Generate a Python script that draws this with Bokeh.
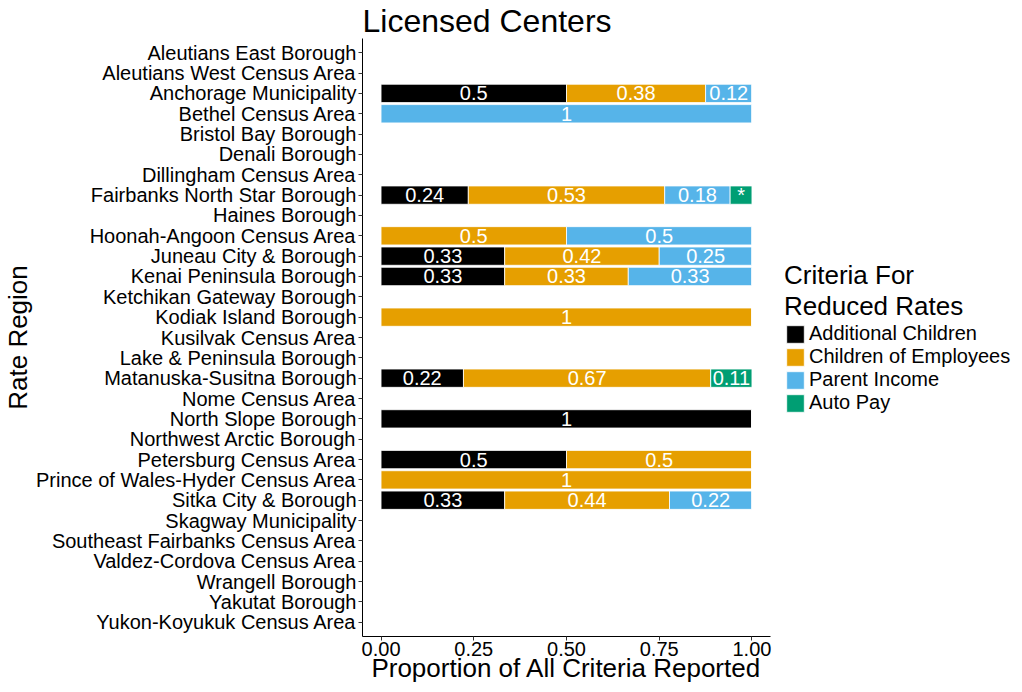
from bokeh.plotting import figure
from bokeh.models import (ColumnDataSource, FactorRange, Range1d, FixedTicker,
                          NumeralTickFormatter, Legend, LegendItem)
from bokeh.core.properties import value
from bokeh.embed import file_html
from bokeh.resources import INLINE

FONT = "Liberation Sans"

regions = [
    "Aleutians East Borough", "Aleutians West Census Area", "Anchorage Municipality",
    "Bethel Census Area", "Bristol Bay Borough", "Denali Borough", "Dillingham Census Area",
    "Fairbanks North Star Borough", "Haines Borough", "Hoonah-Angoon Census Area",
    "Juneau City & Borough", "Kenai Peninsula Borough", "Ketchikan Gateway Borough",
    "Kodiak Island Borough", "Kusilvak Census Area", "Lake & Peninsula Borough",
    "Matanuska-Susitna Borough", "Nome Census Area", "North Slope Borough",
    "Northwest Arctic Borough", "Petersburg Census Area", "Prince of Wales-Hyder Census Area",
    "Sitka City & Borough", "Skagway Municipality", "Southeast Fairbanks Census Area",
    "Valdez-Cordova Census Area", "Wrangell Borough", "Yakutat Borough",
    "Yukon-Koyukuk Census Area",
]

additional_children = [0, 0, 0.5, 0, 0, 0, 0, 0.2353, 0, 0, 0.3333, 0.3333, 0, 0, 0, 0,
                       0.2222, 0, 1, 0, 0.5, 0, 0.3333, 0, 0, 0, 0, 0, 0]
children_of_employees = [0, 0, 0.375, 0, 0, 0, 0, 0.5294, 0, 0.5, 0.4167, 0.3333, 0, 1, 0, 0,
                         0.6667, 0, 0, 0, 0.5, 1, 0.4444, 0, 0, 0, 0, 0, 0]
parent_income = [0, 0, 0.125, 1, 0, 0, 0, 0.1765, 0, 0.5, 0.25, 0.3333, 0, 0, 0, 0,
                 0, 0, 0, 0, 0, 0, 0.2222, 0, 0, 0, 0, 0, 0]
auto_pay = [0, 0, 0, 0, 0, 0, 0, 0.0588, 0, 0, 0, 0, 0, 0, 0, 0,
            0.1111, 0, 0, 0, 0, 0, 0, 0, 0, 0, 0, 0, 0]

series_names = ["Additional Children", "Children of Employees", "Parent Income", "Auto Pay"]
series_keys = ["ac", "ce", "pi", "ap"]
colors = ["#000000", "#E69F00", "#56B4E9", "#009E73"]
x_ticks = [0, 0.25, 0.5, 0.75, 1.0]

series_values = [additional_children, children_of_employees, parent_income, auto_pay]
source = ColumnDataSource(dict(region=regions, ac=additional_children,
                               ce=children_of_employees, pi=parent_income, ap=auto_pay))

# label positions (segment centres)
lx, ly, lt = [], [], []
for i, r in enumerate(regions):
    cum = 0.0
    for vals in series_values:
        v = vals[i]
        if v > 0:
            lx.append(cum + v / 2)
            ly.append(r)
            lt.append("*" if v < 0.1 else f"{v:.2f}".rstrip("0").rstrip("."))
            cum += v
label_src = ColumnDataSource(dict(x=lx, y=ly, t=lt))

p = figure(frame_width=408, frame_height=598, output_backend="svg", toolbar_location=None,
           y_range=FactorRange(factors=list(reversed(regions)), range_padding=0.2,
                               range_padding_units="absolute"),
           x_range=Range1d(-0.05, 1.05), title="Licensed Centers")
p.min_border_left = 0
p.min_border_right = 0
p.min_border_top = 0
p.min_border_bottom = 0

renderers = p.hbar_stack(series_keys, y="region", height=0.9, color=colors, source=source,
                         line_color="white", line_width=0.8)

p.text(x="x", y="y", text="t", source=label_src, text_color="white",
       text_font=value(FONT), text_font_size="20px", text_align="center",
       text_baseline="middle")

p.title.text_font = FONT
p.title.text_font_size = "32px"
p.title.text_font_style = "normal"
p.title.text_color = "black"
p.title.align = "left"
p.title.standoff = 0

p.xgrid.visible = False
p.ygrid.visible = False
p.outline_line_color = None

for ax in (p.xaxis[0], p.yaxis[0]):
    ax.axis_line_color = "black"
    ax.major_tick_line_color = "#333333"
    ax.major_tick_out = 4
    ax.major_tick_in = 0
    ax.minor_tick_line_color = None
    ax.major_label_text_font = FONT
    ax.major_label_text_font_size = "20px"
    ax.major_label_text_color = "black"
    ax.axis_label_text_font = FONT
    ax.axis_label_text_font_size = "26px"
    ax.axis_label_text_font_style = "normal"
    ax.axis_label_text_color = "black"
    ax.major_label_standoff = 2
    ax.axis_label_standoff = 0

p.xaxis[0].ticker = FixedTicker(ticks=x_ticks)
p.xaxis[0].formatter = NumeralTickFormatter(format="0.00")
p.xaxis[0].axis_label = "Proportion of All Criteria Reported"
p.xaxis[0].major_label_standoff = 1
p.xaxis[0].axis_label_standoff = -6
p.yaxis[0].axis_label = "Rate Region"

legend = Legend(items=[LegendItem(label=n, renderers=[r]) for n, r in zip(series_names, renderers)],
                location="center_left", title="Criteria For\nReduced Rates")
legend.title_text_font = FONT
legend.title_text_font_size = "26px"
legend.title_text_font_style = "normal"
legend.title_text_color = "black"
legend.title_standoff = 0
legend.label_text_font = FONT
legend.label_text_font_size = "20px"
legend.label_text_color = "black"
legend.glyph_width = 22
legend.glyph_height = 22
legend.label_height = 18
legend.label_standoff = 3
legend.spacing = 0
legend.padding = 0
legend.margin = 14
legend.border_line_color = None
legend.background_fill_color = None
p.add_layout(legend, "right")

open("out.html", "w").write(file_html(p, INLINE))
